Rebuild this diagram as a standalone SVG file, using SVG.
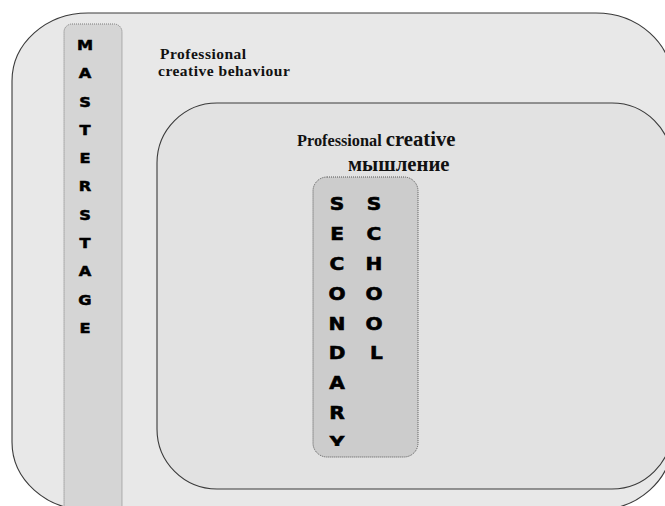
<svg xmlns="http://www.w3.org/2000/svg" width="665" height="506" viewBox="0 0 665 506">
  <defs>
    <style>
      .frame { stroke: #3a3a3a; stroke-width: 1.1; }
      .pillar { stroke-dasharray: 1 1; stroke-width: 1; }
      .label { font-family: "Liberation Serif", "Times New Roman", serif; font-weight: bold; fill: #111; }
      .v1 { font-family: "DejaVu Sans", "Liberation Sans", sans-serif; font-weight: bold; font-size: 13.5px; fill: #000; text-anchor: middle; stroke: #000; stroke-width: 0.5; }
      .v2 { font-family: "DejaVu Sans", "Liberation Sans", sans-serif; font-weight: bold; font-size: 17.5px; fill: #000; text-anchor: middle; stroke: #000; stroke-width: 0.6; }
    </style>
    <clipPath id="secClip">
      <rect x="313" y="177" width="105" height="269"/>
    </clipPath>
  </defs>
  <rect width="665" height="506" fill="#ffffff"/>

  <g id="professional-creative-behaviour">
    <rect class="frame" x="12" y="13" width="660" height="497" rx="76" ry="68" fill="#e8e8e8"/>
    <text class="label" font-size="15.5" letter-spacing="0.5">
      <tspan x="160" y="59">Professional</tspan>
      <tspan x="158" y="75.5">creative behaviour</tspan>
    </text>
  </g>

  <g id="masterstage">
    <rect class="pillar" x="64" y="24" width="58" height="490" rx="8" fill="#d5d5d5" stroke="#7a7a7a"/>
    <g transform="translate(85,0) scale(1.2,1)">
      <text class="v1" x="0" y="50">M</text>
      <text class="v1" x="0" y="78.3">A</text>
      <text class="v1" x="0" y="106.6">S</text>
      <text class="v1" x="0" y="134.9">T</text>
      <text class="v1" x="0" y="163.2">E</text>
      <text class="v1" x="0" y="191.5">R</text>
      <text class="v1" x="0" y="219.8">S</text>
      <text class="v1" x="0" y="248.1">T</text>
      <text class="v1" x="0" y="276.4">A</text>
      <text class="v1" x="0" y="304.7">G</text>
      <text class="v1" x="0" y="333">E</text>
    </g>
  </g>

  <g id="professional-creative-thinking">
    <rect class="frame" x="157" y="103" width="515" height="386" rx="60" ry="60" fill="#e2e2e2"/>
    <text class="label" font-size="16.3" x="297" y="146">Professional <tspan font-size="20.7">creative</tspan></text>
    <text class="label" font-size="20.7" x="348" y="170.5">мышление</text>
  </g>

  <g id="secondary-school">
    <rect class="pillar" x="313" y="177" width="105" height="280" rx="14" fill="#cccccc" stroke="#555555"/>
    <g clip-path="url(#secClip)">
      <g transform="translate(337,0) scale(1.15,1)">
        <text class="v2" x="0" y="210.5">S</text>
        <text class="v2" x="0" y="240.3">E</text>
        <text class="v2" x="0" y="270.1">C</text>
        <text class="v2" x="0" y="299.9">O</text>
        <text class="v2" x="0" y="329.7">N</text>
        <text class="v2" x="0" y="359.5">D</text>
        <text class="v2" x="0" y="389.3">A</text>
        <text class="v2" x="0" y="419.1">R</text>
        <text class="v2" x="0" y="448.9">Y</text>
      </g>
    </g>
    <g transform="translate(374,0) scale(1.15,1)">
      <text class="v2" x="0" y="210.5">S</text>
      <text class="v2" x="0" y="240.3">C</text>
      <text class="v2" x="0" y="270.1">H</text>
      <text class="v2" x="0" y="299.9">O</text>
      <text class="v2" x="0" y="329.7">O</text>
      <text class="v2" x="2" y="359.5">L</text>
    </g>
  </g>

  <g id="connectors"/>
</svg>
